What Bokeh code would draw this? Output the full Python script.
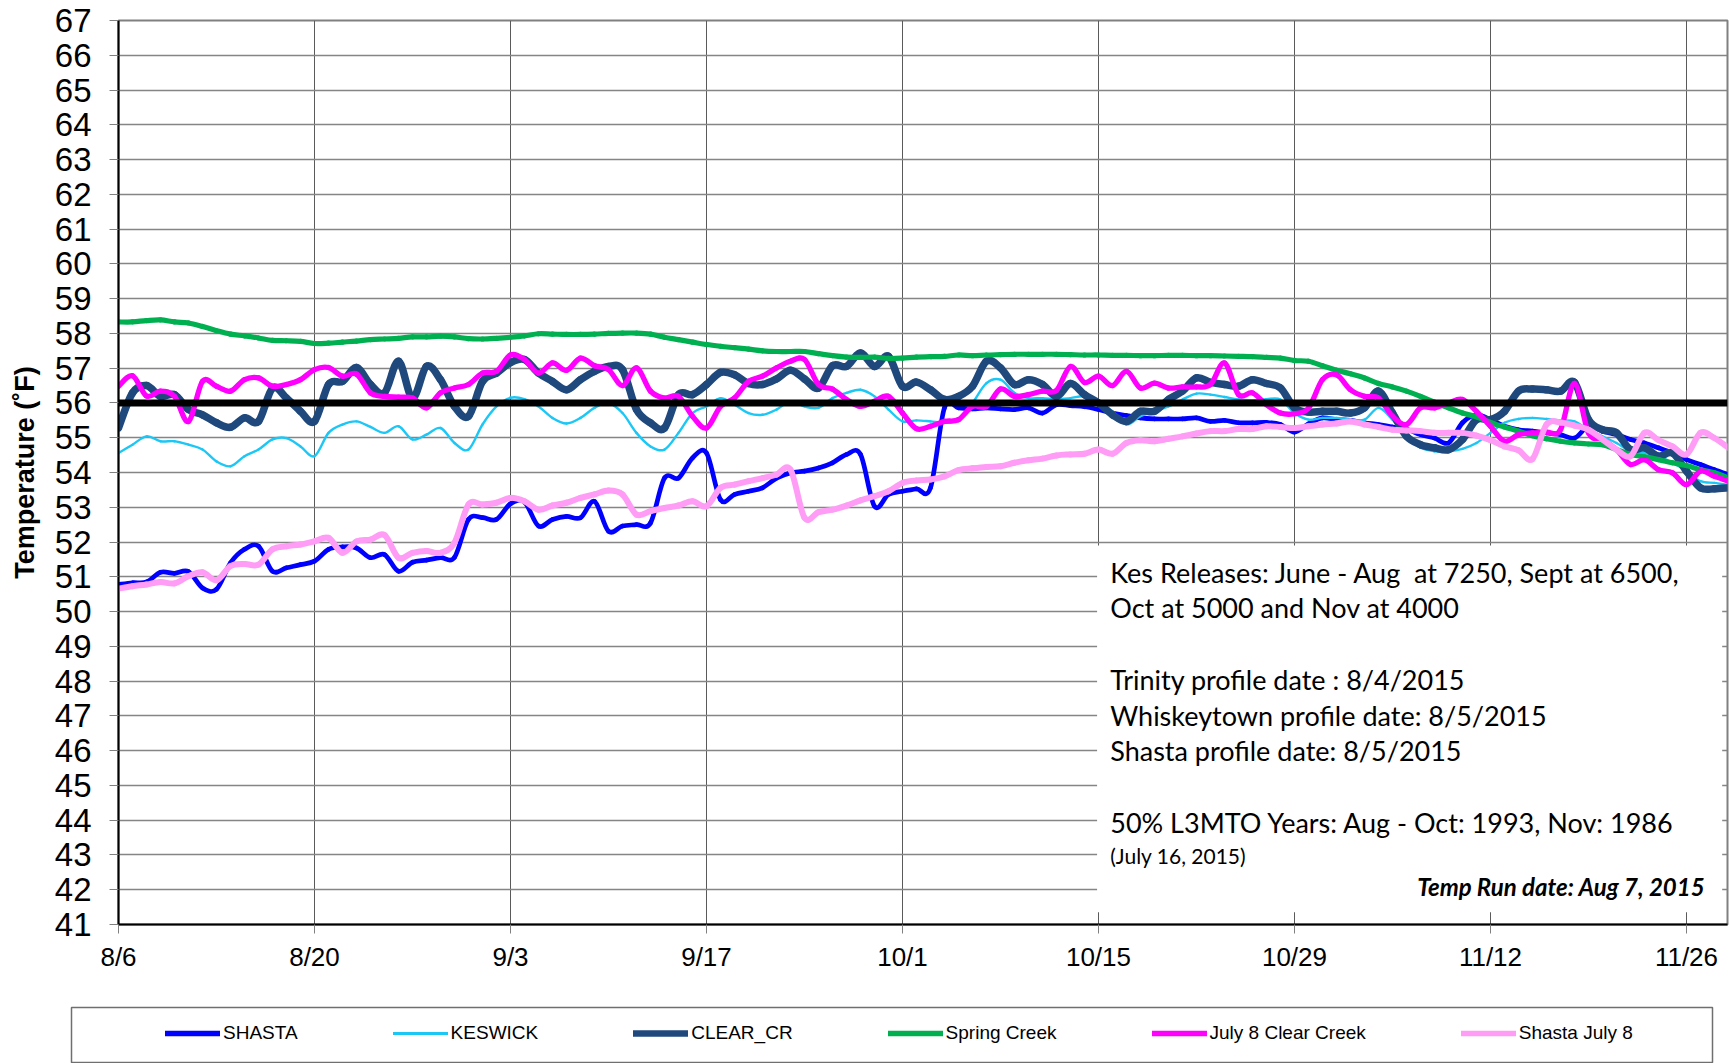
import numpy as np
import pandas as pd
from bokeh.plotting import figure
from bokeh.models import (Range1d, FixedTicker, DatetimeTickFormatter, Span,
                          BoxAnnotation, Label, Legend, LegendItem, ColumnDataSource)
from bokeh.embed import file_html
from bokeh.resources import INLINE

# ---------------- data ----------------
start_date = "2015-08-06"
dates = pd.date_range(start_date, periods=116, freq="D")

shasta = [
    50.78, 50.83, 50.85, 51.13, 51.10, 51.15, 50.68, 50.64, 51.40, 51.79,
    51.88, 51.16, 51.26, 51.35, 51.45, 51.79, 51.86, 51.83, 51.55, 51.64,
    51.16, 51.42, 51.48, 51.55, 51.56, 52.65, 52.70, 52.65, 53.10, 53.15,
    52.46, 52.65, 52.74, 52.70, 53.17, 52.31, 52.46, 52.50, 52.55, 53.84,
    53.84, 54.42, 54.56, 53.22, 53.37, 53.46, 53.56, 53.84, 53.99, 54.04,
    54.13, 54.28, 54.52, 54.52, 53.03, 53.37, 53.46, 53.53, 53.56, 55.86,
    55.86, 55.83, 55.86, 55.83, 55.81, 55.86, 55.71, 55.95, 55.92, 55.89,
    55.81, 55.71, 55.64, 55.57, 55.54, 55.54, 55.54, 55.57, 55.47, 55.50,
    55.43, 55.43, 55.44, 55.38, 55.16, 55.40, 55.57, 55.52, 55.50, 55.43,
    55.38, 55.31, 55.25, 55.09, 54.99, 54.85, 55.43, 55.66, 55.52, 55.33,
    55.23, 55.19, 55.14, 55.09, 54.99, 55.33, 55.19, 55.09, 54.95, 54.85,
    54.71, 54.56, 54.37, 54.23, 54.08, 53.94]

keswick = [
    54.56, 54.80, 55.04, 54.90, 54.90, 54.80, 54.66, 54.32, 54.18, 54.47,
    54.66, 54.95, 54.99, 54.75, 54.47, 55.14, 55.38, 55.47, 55.31, 55.14,
    55.33, 54.95, 55.09, 55.28, 54.85, 54.66, 55.38, 55.90, 56.15, 56.11,
    55.90, 55.57, 55.41, 55.57, 55.86, 56.00, 55.71, 55.14, 54.75, 54.66,
    55.14, 55.71, 55.90, 56.14, 55.95, 55.71, 55.66, 55.81, 56.05, 55.90,
    55.86, 56.14, 56.29, 56.38, 56.19, 55.81, 55.47, 55.50, 55.47, 55.43,
    55.52, 56.00, 56.57, 56.67, 56.29, 56.14, 56.14, 56.11, 56.14, 56.19,
    56.00, 55.76, 55.38, 55.62, 55.76, 55.90, 56.10, 56.27, 56.24, 56.17,
    56.10, 56.08, 56.11, 56.10, 55.71, 55.52, 55.57, 55.57, 55.52, 55.52,
    55.86, 55.52, 55.04, 54.71, 54.61, 54.61, 54.68, 54.85, 55.14, 55.43,
    55.54, 55.57, 55.54, 55.50, 55.47, 55.23, 55.04, 54.85, 54.61, 54.56,
    54.47, 54.28, 54.04, 53.75, 53.70, 53.65]

clear_cr = [
    55.28, 56.29, 56.50, 56.19, 56.24, 55.81, 55.66, 55.43, 55.30, 55.57,
    55.47, 56.43, 56.14, 55.76, 55.47, 56.53, 56.62, 57.02, 56.53, 56.29,
    57.20, 56.14, 57.05, 56.67, 55.90, 55.62, 56.62, 56.86, 57.16, 57.25,
    56.86, 56.62, 56.38, 56.67, 56.91, 57.05, 56.96, 55.81, 55.43, 55.28,
    56.24, 56.24, 56.53, 56.88, 56.81, 56.56, 56.53, 56.69, 56.94, 56.69,
    56.43, 57.07, 57.05, 57.44, 57.05, 57.34, 56.48, 56.60, 56.38, 56.10,
    56.19, 56.48, 57.20, 57.01, 56.53, 56.67, 56.53, 56.19, 56.56, 56.24,
    56.00, 55.66, 55.47, 55.76, 55.76, 56.10, 56.34, 56.72, 56.59, 56.53,
    56.48, 56.67, 56.56, 56.43, 55.86, 55.74, 55.76, 55.76, 55.71, 55.86,
    56.34, 55.71, 55.04, 54.80, 54.71, 54.66, 54.95, 55.52, 55.52, 55.76,
    56.34, 56.40, 56.38, 56.34, 56.59, 55.52, 55.23, 55.14, 54.66, 54.71,
    54.47, 54.56, 54.04, 53.56, 53.53, 53.56]

spring_creek = [
    58.33, 58.33, 58.37, 58.39, 58.33, 58.30, 58.20, 58.08, 57.98, 57.93,
    57.87, 57.80, 57.79, 57.77, 57.71, 57.72, 57.75, 57.78, 57.82, 57.84,
    57.86, 57.90, 57.90, 57.92, 57.90, 57.85, 57.84, 57.86, 57.89, 57.93,
    57.99, 57.98, 57.97, 57.97, 57.98, 58.00, 58.01, 58.01, 57.98, 57.89,
    57.82, 57.75, 57.68, 57.63, 57.59, 57.55, 57.50, 57.48, 57.48, 57.48,
    57.42, 57.36, 57.32, 57.31, 57.32, 57.28, 57.29, 57.32, 57.33, 57.34,
    57.38, 57.36, 57.38, 57.39, 57.40, 57.40, 57.40, 57.40, 57.39, 57.38,
    57.38, 57.37, 57.37, 57.36, 57.36, 57.37, 57.37, 57.36, 57.36, 57.35,
    57.34, 57.33, 57.31, 57.29, 57.22, 57.20, 57.07, 56.94, 56.84, 56.72,
    56.56, 56.46, 56.34, 56.19, 56.02, 55.86, 55.71, 55.60, 55.44, 55.31,
    55.19, 55.06, 54.97, 54.90, 54.85, 54.82, 54.80, 54.66, 54.52, 54.45,
    54.37, 54.28, 54.20, 54.08, 53.99, 53.84]

july8_clear_creek = [
    56.48, 56.78, 56.20, 56.34, 56.19, 55.47, 56.62, 56.48, 56.34, 56.67,
    56.72, 56.48, 56.53, 56.67, 56.96, 57.02, 56.77, 56.83, 56.29, 56.19,
    56.17, 56.14, 55.86, 56.29, 56.43, 56.53, 56.86, 56.91, 57.38, 57.25,
    56.86, 57.15, 56.94, 57.29, 57.07, 56.96, 56.50, 57.01, 56.34, 56.14,
    56.19, 55.62, 55.28, 55.90, 56.14, 56.62, 56.77, 57.01, 57.20, 57.25,
    56.53, 56.40, 56.10, 55.90, 56.05, 56.19, 55.71, 55.26, 55.33, 55.47,
    55.52, 55.90, 55.90, 56.40, 56.19, 56.24, 56.34, 56.36, 57.05, 56.59,
    56.77, 56.50, 56.91, 56.43, 56.57, 56.43, 56.46, 56.46, 56.53, 57.15,
    56.24, 56.29, 55.95, 55.71, 55.69, 55.85, 56.67, 56.81, 56.38, 56.19,
    56.14, 55.62, 55.38, 55.86, 55.86, 56.00, 56.10, 55.76, 55.33, 54.90,
    55.09, 55.14, 55.16, 55.23, 56.56, 55.14, 54.95, 54.66, 54.23, 54.37,
    54.08, 53.99, 53.65, 54.04, 53.89, 53.75]

shasta_july8 = [
    50.66, 50.73, 50.78, 50.85, 50.81, 51.02, 51.13, 50.90, 51.31, 51.37,
    51.35, 51.79, 51.88, 51.93, 52.02, 52.12, 51.69, 52.02, 52.07, 52.20,
    51.55, 51.69, 51.74, 51.69, 51.98, 53.08, 53.08, 53.13, 53.27, 53.17,
    52.93, 53.05, 53.13, 53.27, 53.37, 53.48, 53.37, 52.79, 52.89, 52.98,
    53.05, 53.17, 53.03, 53.56, 53.65, 53.75, 53.84, 53.94, 54.08, 52.70,
    52.86, 52.93, 53.05, 53.20, 53.32, 53.46, 53.70, 53.77, 53.80, 53.89,
    54.07, 54.12, 54.16, 54.18, 54.28, 54.35, 54.40, 54.49, 54.52, 54.54,
    54.66, 54.54, 54.85, 54.93, 54.90, 54.97, 55.04, 55.12, 55.19, 55.19,
    55.25, 55.25, 55.33, 55.31, 55.28, 55.33, 55.38, 55.41, 55.47, 55.38,
    55.31, 55.23, 55.21, 55.19, 55.14, 55.14, 55.14, 55.06, 54.93, 54.75,
    54.64, 54.39, 55.38, 55.44, 55.35, 55.23, 54.95, 54.66, 54.47, 55.14,
    54.93, 54.75, 54.52, 55.14, 54.99, 54.71]

series_names = ["SHASTA", "KESWICK", "CLEAR_CR", "Spring Creek",
                "July 8 Clear Creek", "Shasta July 8"]
series_values = [shasta, keswick, clear_cr, spring_creek,
                 july8_clear_creek, shasta_july8]

threshold_temp = 56
y_ticks = list(range(41, 68))
x_tick_dates = pd.date_range(start_date, periods=9, freq="14D")

note_lines = [
    "Kes Releases: June - Aug \u00a0at 7250, Sept at 6500,",
    "Oct at 5000 and Nov at 4000",
    "Trinity profile date : 8/4/2015",
    "Whiskeytown profile date: 8/5/2015",
    "Shasta profile date: 8/5/2015",
    "50% L3MTO Years: Aug - Oct: 1993, Nov: 1986",
]
note_small = "(July 16, 2015)"
run_date_note = "Temp Run date: Aug 7, 2015"

# ---------------- styles / layout ----------------
colors = ["#0000FF", "#1CC7F5", "#1F497D", "#00B050", "#FF00FF", "#FF9CF5"]
widths = [4.7, 2.4, 7.5, 5.2, 5.3, 6.0]
legend_widths = [5.5, 3.0, 6.5, 5.5, 5.5, 5.5]

DAY = 86400000.0
t0 = pd.Timestamp(start_date).value / 1e6


def dms(d):
    return t0 + np.asarray(d, dtype=float) * DAY


def smooth_segments(vals):
    """Cubic Bezier pieces through every daily value (Excel-style smoothed line)."""
    y = np.asarray(vals, dtype=float)
    x = (dates - dates[0]).days.values.astype(float)
    xp = np.concatenate([[x[0]], x, [x[-1]]])
    yp = np.concatenate([[y[0]], y, [y[-1]]])
    i = np.arange(len(y) - 1)
    x0, y0 = xp[i + 1], yp[i + 1]
    x1, y1 = xp[i + 2], yp[i + 2]
    cx0 = x0 + (xp[i + 2] - xp[i]) / 6.0
    cy0 = y0 + (yp[i + 2] - yp[i]) / 6.0
    cx1 = x1 - (xp[i + 3] - xp[i + 1]) / 6.0
    cy1 = y1 - (yp[i + 3] - yp[i + 1]) / 6.0
    return ColumnDataSource(dict(x0=dms(x0), y0=y0, x1=dms(x1), y1=y1,
                                 cx0=dms(cx0), cy0=cy0, cx1=dms(cx1), cy1=cy1))


p = figure(frame_width=1609, frame_height=904,
           min_border_left=118, min_border_right=2,
           min_border_top=20, min_border_bottom=82,
           x_axis_type="datetime", output_backend="svg", toolbar_location=None,
           x_range=Range1d(float(dms(0)), float(dms(114.93))), y_range=Range1d(41, 67))
p.background_fill_color = "white"
p.border_fill_color = "white"
p.outline_line_color = "#808080"
p.outline_line_width = 2

# axes
p.yaxis.ticker = FixedTicker(ticks=y_ticks)
p.xaxis.ticker = FixedTicker(ticks=[pd.Timestamp(d).value / 1e6 for d in x_tick_dates])
fmt = "%-m/%-d"
p.xaxis.formatter = DatetimeTickFormatter(days=fmt, months=fmt, years=fmt,
                                          hours=fmt, minutes=fmt, seconds=fmt)
for ax in (p.xaxis[0], p.yaxis[0]):
    ax.major_label_text_font = "Liberation Sans"
    ax.major_label_text_color = "black"
    ax.axis_line_color = "black"
    ax.axis_line_width = 2
    ax.major_tick_out = 9
    ax.major_tick_in = 0
    ax.minor_tick_out = 0
    ax.minor_tick_in = 0
    ax.major_tick_line_color = "#808080"
p.yaxis.major_label_text_font_size = "33px"
p.xaxis.major_label_text_font_size = "26px"
p.yaxis.major_label_standoff = 18
p.xaxis.major_label_standoff = 8
p.yaxis.axis_label = "Temperature (˚F)"
p.yaxis.axis_label_text_font = "Liberation Sans"
p.yaxis.axis_label_text_font_style = "bold"
p.yaxis.axis_label_text_font_size = "27px"
p.yaxis.axis_label_text_color = "black"
p.yaxis.axis_label_standoff = 12

p.ygrid.ticker = FixedTicker(ticks=y_ticks)
p.ygrid.grid_line_color = "#858585"
p.ygrid.grid_line_width = 1.5
p.xgrid.grid_line_color = "#5a5a5a"
p.xgrid.grid_line_width = 1

# series (smoothed lines)
for name, vals, c, w in zip(series_names, series_values, colors, widths):
    p.bezier(x0="x0", y0="y0", x1="x1", y1="y1", cx0="cx0", cy0="cy0",
             cx1="cx1", cy1="cy1", source=smooth_segments(vals),
             line_color=c, line_width=w, line_cap="round")

p.add_layout(Span(location=threshold_temp, dimension="width",
                  line_color="black", line_width=7))

# white note box
p.add_layout(BoxAnnotation(left=float(dms(69.9)), right=float(dms(114.55)),
                           top=51.9, bottom=41.35,
                           fill_color="white", fill_alpha=1.0, line_alpha=0))

note_y = [51.13, 50.11, 48.06, 47.01, 46.0, 43.94]
for txt, yv in zip(note_lines, note_y):
    p.add_layout(Label(x=float(dms(70.84)), y=yv, text=txt, text_font="Lato",
                       text_font_size="27px", text_baseline="middle",
                       text_color="black"))
p.add_layout(Label(x=float(dms(70.84)), y=42.99, text=note_small, text_font="Lato",
                   text_font_size="21px", text_baseline="middle", text_color="black"))
p.add_layout(Label(x=float(dms(113.34)), y=42.10, text=run_date_note, text_font="Lato",
                   text_font_size="24px", text_font_style="bold italic",
                   text_align="right", text_baseline="middle", text_color="black"))

# ---------------- legend strip (own boxed figure below the chart) ----------------
lg = figure(frame_width=1641, frame_height=55,
            min_border_left=71, min_border_right=17,
            min_border_top=1, min_border_bottom=1,
            x_axis_location=None, y_axis_location=None,
            x_axis_type="datetime",
            output_backend="svg", toolbar_location=None,
            x_range=Range1d(float(dms(0)), float(dms(114.93))), y_range=Range1d(0, 1))
lg.grid.visible = False
lg.outline_line_color = "#6f6f6f"
lg.outline_line_width = 1.5
lg.background_fill_color = "white"
lg.border_fill_color = "white"

legend_renderers = []
for vals, c, w in zip(series_values, colors, legend_widths):
    # same series, outside this strip's visible y-range: only the legend sample shows
    legend_renderers.append(lg.line(dates, vals, line_color=c, line_width=w,
                                    line_cap="round"))

legend = Legend(items=[LegendItem(label=n, renderers=[r])
                       for n, r in zip(series_names, legend_renderers)],
                orientation="horizontal", location=(86, 10), margin=0,
                glyph_width=55, glyph_height=20, label_height=20,
                label_standoff=3, spacing=95, padding=8,
                label_text_font="Liberation Sans", label_text_font_size="19px",
                label_text_color="black",
                border_line_alpha=0, background_fill_alpha=0)
lg.add_layout(legend)

open("out.html", "w").write(file_html([p, lg], INLINE))
